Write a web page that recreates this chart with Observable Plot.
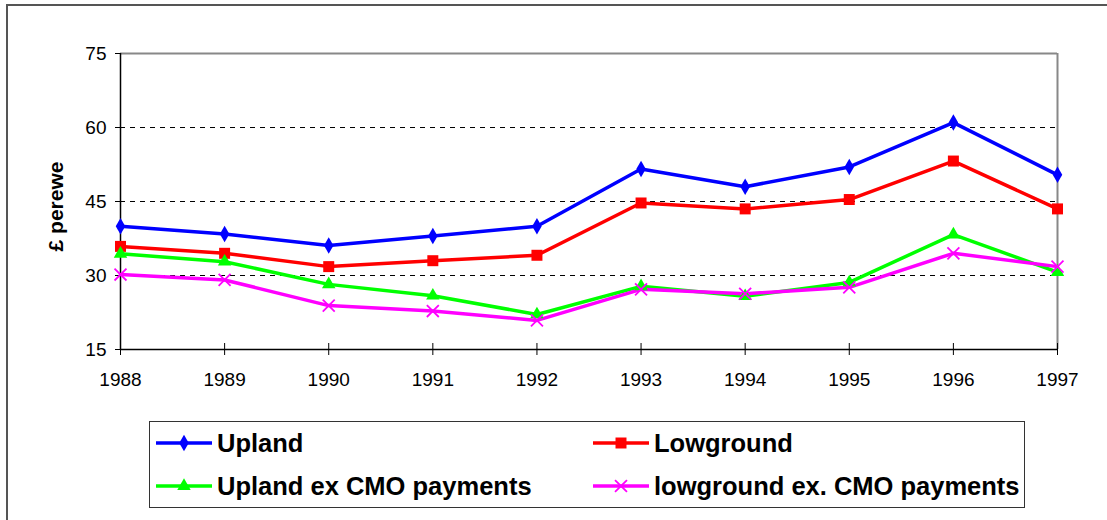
<!DOCTYPE html>
<html><head><meta charset="utf-8">
<script src="https://cdn.jsdelivr.net/npm/d3@7"></script>
<script src="https://cdn.jsdelivr.net/npm/@observablehq/plot@0.6"></script>
<style>
body{margin:0;background:#fff;overflow:hidden;font-family:"Liberation Sans",Arial,sans-serif;}
#wrap{position:relative;width:1107px;height:520px;overflow:hidden;}
#frame{position:absolute;left:6px;top:4px;width:1130px;height:560px;border:2px solid #555;box-sizing:border-box;}
#chart{position:absolute;left:0;top:0;}
#legend{position:absolute;left:149px;top:421px;width:876px;height:87px;border:1.5px solid #333;box-sizing:border-box;}
.item{position:absolute;display:flex;align-items:center;font-weight:bold;font-size:25.5px;color:#000;white-space:nowrap;}
.item svg{margin-right:4px;}
</style></head>
<body>
<div id="wrap"><div id="frame"></div><div id="chart"></div><div id="legend"></div></div>
<script>
const years = [1988,1989,1990,1991,1992,1993,1994,1995,1996,1997];
const upland = [40.0,38.4,36.1,38.0,40.0,51.6,48.0,52.0,61.0,50.4];
const lowground = [35.9,34.5,31.8,33.0,34.1,44.7,43.5,45.4,53.2,43.5];
const uplandExCMO = [34.4,32.8,28.2,25.9,22.1,27.8,25.8,28.6,38.3,30.7];
const lowgroundExCMO = [30.2,29.1,23.9,22.8,20.9,27.2,26.3,27.6,34.5,31.8];
const seriesNames = ["Upland","Lowground","Upland ex CMO payments","lowground ex. CMO payments"];
const seriesColors = ["#0000FF","#FF0000","#00FF00","#FF00FF"];
const yTicks = [15,30,45,60,75];
const gridVals = [30,45,60];
const yLabel = "£ perewe";

const values = [upland, lowground, uplandExCMO, lowgroundExCMO];
const symbols = ["diamond","square","triangle","times"];
const radii = [5,6.2,5,5.5];
const rows = [];
values.forEach((v,i)=>v.forEach((y,j)=>rows.push({series:seriesNames[i], x:years[j], y})));

const marks = [
  Plot.ruleY(gridVals,{stroke:"#000",strokeWidth:1,strokeDasharray:"5,5"}),
  Plot.ruleY([75],{stroke:"#888",strokeWidth:2}),
  Plot.ruleX([1997],{stroke:"#888",strokeWidth:2}),
  Plot.axisY({ticks:yTicks, tickSize:5, tickPadding:9, tickFormat:d=>String(d), fontSize:19, color:"#000", label:null}),
  Plot.axisX({ticks:years, tickSize:12, dy:-6, tickFormat:()=>"", color:"#000", label:null}),
  Plot.axisX({ticks:years, tickSize:0, tickPadding:23, tickFormat:d=>String(d), fontSize:19, color:"#000", label:null}),
  Plot.ruleX([1988],{stroke:"#000",strokeWidth:1.5}),
  Plot.ruleY([15],{stroke:"#000",strokeWidth:1.5}),
];
seriesNames.forEach((name,i)=>{
  const d = rows.filter(r=>r.series===name);
  marks.push(Plot.line(d,{x:"x",y:"y",stroke:seriesColors[i],strokeWidth:3.5}));
});
seriesNames.forEach((name,i)=>{
  const d = rows.filter(r=>r.series===name);
  if (symbols[i]==="times") marks.push(Plot.dot(d,{x:"x",y:"y",symbol:"times",r:radii[i],stroke:seriesColors[i],strokeWidth:1.8}));
  else marks.push(Plot.dot(d,{x:"x",y:"y",symbol:symbols[i],r:radii[i],fill:seriesColors[i],stroke:"none"}));
});
marks.push(Plot.text([yLabel],{frameAnchor:"left",textAnchor:"middle",rotate:-90,dx:-64,dy:5,fontWeight:"bold",fontSize:21,fill:"#000"}));

const chart = Plot.plot({
  width:1107, height:410,
  marginLeft:120, marginRight:50, marginTop:53, marginBottom:61,
  style:{fontFamily:"Liberation Sans, Arial, sans-serif", fontSize:"19px", color:"#000", background:"transparent", overflow:"visible"},
  x:{domain:[1988,1997], label:null},
  y:{domain:[15,75], label:null},
  marks
});
document.getElementById("chart").appendChild(chart);

// legend
const legend = document.getElementById("legend");
const pos = [[5,0],[442,0],[5,43],[442,43]];
const symMap = {diamond:d3.symbolDiamond,square:d3.symbolSquare,triangle:d3.symbolTriangle,times:d3.symbolTimes};
seriesNames.forEach((name,i)=>{
  const div = document.createElement("div");
  div.className="item";
  div.style.left=pos[i][0]+"px";
  div.style.top=(pos[i][1]+4)+"px";
  div.style.height="34px";
  const svg = d3.create("svg").attr("width",58).attr("height",24);
  svg.append("line").attr("x1",1).attr("x2",57).attr("y1",12).attr("y2",12).attr("stroke",seriesColors[i]).attr("stroke-width",3.5);
  const p = svg.append("path").attr("transform","translate(29,12)")
    .attr("d",d3.symbol(symMap[symbols[i]], radii[i]*radii[i]*Math.PI)());
  if (symbols[i]==="times") p.attr("fill","none").attr("stroke",seriesColors[i]).attr("stroke-width",1.8);
  else p.attr("fill",seriesColors[i]);
  div.appendChild(svg.node());
  const span = document.createElement("span");
  span.textContent=name;
  div.appendChild(span);
  legend.appendChild(div);
});
</script>
</body></html>
